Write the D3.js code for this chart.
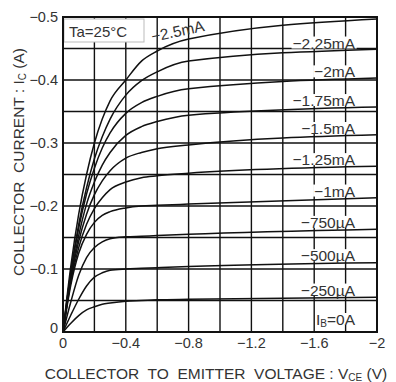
<!DOCTYPE html>
<html>
<head>
<meta charset="utf-8">
<script src="https://cdn.jsdelivr.net/npm/d3@7"></script>
<style>
  html, body { margin: 0; padding: 0; background: #fff; }
  svg { display: block; font-family: "Liberation Sans", Arial, Helvetica, sans-serif; }
  .pre { white-space: pre; }
</style>
</head>
<body>
<svg id="chart" width="396" height="382"></svg>
<script>
// Collector-emitter voltage samples (V) shared by every base-current curve
const vce = [0, -0.05, -0.1, -0.15, -0.2, -0.25, -0.3, -0.4, -0.5, -0.6, -0.8, -2.0];

// Collector current (A) for each base current
const ib0    = [0, 0, 0, 0, 0, 0, 0, 0, 0, 0, 0, 0];
const ib250u = [0, -0.014, -0.026, -0.035, -0.040, -0.044, -0.046, -0.049, -0.050, -0.051, -0.052, -0.055];
const ib500u = [0, -0.027, -0.052, -0.073, -0.087, -0.094, -0.098, -0.100, -0.101, -0.102, -0.104, -0.110];
const ib750u = [0, -0.048, -0.090, -0.118, -0.134, -0.143, -0.148, -0.151, -0.152, -0.153, -0.155, -0.163];
const ib1m   = [0, -0.075, -0.125, -0.155, -0.174, -0.185, -0.191, -0.197, -0.200, -0.201, -0.203, -0.213];
const ib125m = [0, -0.080, -0.134, -0.171, -0.196, -0.213, -0.226, -0.238, -0.245, -0.248, -0.252, -0.263];
const ib15m  = [0, -0.084, -0.144, -0.187, -0.218, -0.240, -0.256, -0.276, -0.285, -0.291, -0.297, -0.313];
const ib175m = [0, -0.088, -0.153, -0.203, -0.238, -0.265, -0.285, -0.312, -0.326, -0.334, -0.344, -0.357];
const ib2m   = [0, -0.094, -0.165, -0.219, -0.260, -0.292, -0.316, -0.347, -0.364, -0.374, -0.386, -0.403];
const ib225m = [0, -0.096, -0.171, -0.229, -0.275, -0.310, -0.338, -0.376, -0.399, -0.413, -0.430, -0.449];
const ib25m  = [0, -0.105, -0.187, -0.250, -0.300, -0.338, -0.367, -0.400, -0.430, -0.446, -0.465, -0.497];

const curveLabels = ["IB=0A", "\u2212250\u00b5A", "\u2212500\u00b5A", "\u2212750\u00b5A", "\u22121mA",
                     "\u22121.25mA", "\u22121.5mA", "\u22121.75mA", "\u22122mA", "\u22122.25mA", "\u22122.5mA"];
const curveValues = [ib0, ib250u, ib500u, ib750u, ib1m, ib125m, ib15m, ib175m, ib2m, ib225m, ib25m];

const xTicks = [0, -0.4, -0.8, -1.2, -1.6, -2];
const xTickLabels = ["0", "\u22120.4", "\u22120.8", "\u22121.2", "\u22121.6", "\u22122"];
const yTicks = [0, -0.1, -0.2, -0.3, -0.4, -0.5];
const yTickLabels = ["0", "\u22120.1", "\u22120.2", "\u22120.3", "\u22120.4", "\u22120.5"];
const xGrid = d3.range(0, 11).map(i => -0.2 * i);
const yGrid = d3.range(0, 11).map(i => -0.05 * i);

const svg = d3.select("#chart");
const L = 63, R = 377, T = 17, B = 332;
const x = d3.scaleLinear().domain([0, -2]).range([L, R]);
const y = d3.scaleLinear().domain([0, -0.5]).range([B, T]);
const ink = "#111";
const textInk = "#333";

// grid
const grid = svg.append("g").attr("stroke", ink).attr("stroke-width", 1.4);
grid.selectAll("line.v").data(xGrid).join("line")
  .attr("x1", d => x(d)).attr("x2", d => x(d)).attr("y1", T).attr("y2", B);
grid.selectAll("line.h").data(yGrid).join("line")
  .attr("x1", L).attr("x2", R).attr("y1", d => y(d)).attr("y2", d => y(d));

// temperature note box
const note = svg.append("g");
note.append("rect").attr("x", L + 1).attr("y", T + 2).attr("width", 80).attr("height", 23)
  .attr("fill", "#fff").attr("stroke", "#bbb").attr("stroke-width", 1);
note.append("text").attr("x", L + 6).attr("y", T + 20).attr("font-size", 15).attr("fill", textInk)
  .text("Ta=25\u00b0C");

// label backings sit under the curves, label text above them
const labelLayer = svg.append("g");
const lineLayer = svg.append("g");
const textLayer = svg.append("g");

const line = d3.line().x(d => x(d[0])).y(d => y(d[1])).curve(d3.curveMonotoneX);
curveValues.forEach(vals => {
  lineLayer.append("path").attr("d", line(vce.map((v, i) => [v, vals[i]])))
    .attr("fill", "none").attr("stroke", ink).attr("stroke-width", 1.5);
});

// value of a curve on its final straight stretch
function tailValue(vals, v) {
  const n = vce.length;
  const t = (v - vce[n - 2]) / (vce[n - 1] - vce[n - 2]);
  return vals[n - 2] + t * (vals[n - 1] - vals[n - 2]);
}

const labelV = -1.86;
curveLabels.forEach((lab, i) => {
  if (i === curveLabels.length - 1) return;
  const yy = y(tailValue(curveValues[i], labelV)) - (i === 0 ? 7 : 2);
  const t = textLayer.append("text").attr("x", x(labelV)).attr("y", yy)
    .attr("text-anchor", "end").attr("font-size", 15.5).attr("fill", textInk);
  if (i === 0) {
    t.append("tspan").text("I");
    t.append("tspan").attr("font-size", 10).attr("dy", 2).text("B");
    t.append("tspan").attr("dy", -2).text("=0A");
  } else {
    t.text(lab);
  }
  const bb = t.node().getBBox();
  labelLayer.append("rect").attr("x", bb.x - 1).attr("y", yy - 12).attr("width", bb.width + 2)
    .attr("height", 12).attr("fill", "#fff");
});

// top curve label follows the knee
{
  const iTop = curveValues.length - 1;
  const idx = vce.indexOf(-0.6);
  const px = x(-0.57), py = y(curveValues[iTop][idx]) - 9;
  textLayer.append("text").attr("transform", `translate(${px},${py}) rotate(-12)`)
    .attr("font-size", 15.5).attr("fill", textInk).text(curveLabels[iTop]);
}

// frame
svg.append("rect").attr("x", L).attr("y", T).attr("width", R - L).attr("height", B - T)
  .attr("fill", "none").attr("stroke", ink).attr("stroke-width", 2);

// tick labels
svg.append("g").selectAll("text").data(xTicks).join("text")
  .attr("x", d => x(d)).attr("y", B + 16).attr("text-anchor", "middle")
  .attr("font-size", 14.5).attr("fill", textInk).text((d, i) => xTickLabels[i]);
svg.append("g").selectAll("text").data(yTicks).join("text")
  .attr("x", L - 5).attr("y", d => d === 0 ? y(d) + 1 : y(d) + 5).attr("text-anchor", "end")
  .attr("font-size", 14.5).attr("fill", textInk).text((d, i) => yTickLabels[i]);

// axis titles
const xt = svg.append("text").attr("class", "pre").attr("x", 216).attr("y", 379).attr("text-anchor", "middle")
  .attr("font-size", 15.5).attr("fill", textInk);
xt.append("tspan").text("COLLECTOR  TO  EMITTER  VOLTAGE : V");
xt.append("tspan").attr("font-size", 10).attr("dy", 2).text("CE");
xt.append("tspan").attr("dy", -2).text(" (V)");

const yt = svg.append("text").attr("class", "pre").attr("transform", "translate(24,162) rotate(-90)")
  .attr("text-anchor", "middle").attr("font-size", 15.5).attr("fill", textInk);
yt.append("tspan").text("COLLECTOR  CURRENT : I");
yt.append("tspan").attr("font-size", 10).attr("dy", 2).text("C");
yt.append("tspan").attr("dy", -2).text(" (A)");
</script>
</body>
</html>
